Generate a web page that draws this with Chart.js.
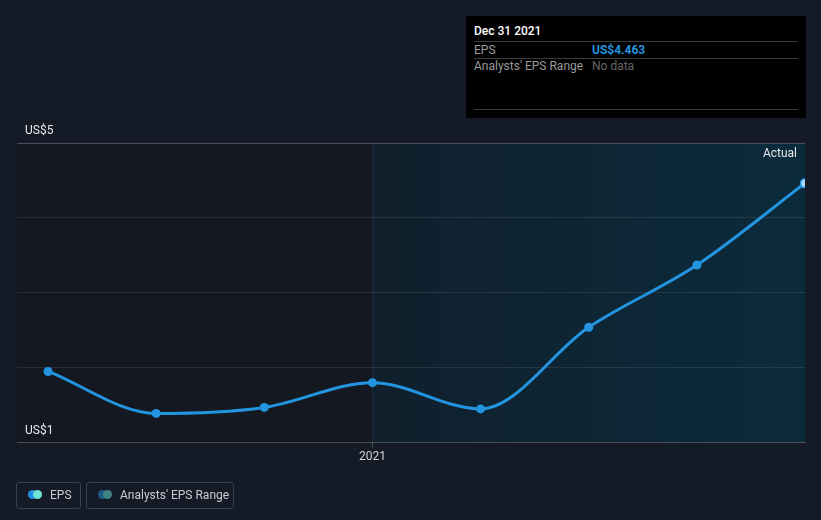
<!DOCTYPE html>
<html><head><meta charset="utf-8">
<script src="https://cdn.jsdelivr.net/npm/chart.js@4/dist/chart.umd.min.js"></script>
<style>
html,body{margin:0;padding:0;background:#151b26;width:821px;height:520px;overflow:hidden;font-family:Roboto,"Noto Sans",sans-serif;}
#wrap{position:absolute;left:0;top:0;width:821px;height:520px;}
#tip{position:absolute;left:466px;top:16px;width:340px;height:102px;background:#000;font-size:12px;}
#tip .t{position:absolute;left:8px;top:8px;color:#fff;font-weight:500;}
#tip .l{position:absolute;left:8px;width:324px;height:1px;background:#3a3a3a;}
#tip .k{position:absolute;left:8px;color:#9a9a9a;}
#tip .v{position:absolute;left:126px;}
.lg{position:absolute;top:482px;height:27px;border:1px solid #3b414b;border-radius:3px;box-sizing:border-box;color:#c8ccd2;font-size:12px;line-height:24px;}
.dot{position:absolute;top:7px;width:9px;height:9px;border-radius:50%;}
</style></head><body>
<div id="wrap"><canvas id="c" width="821" height="520"></canvas></div>
<div id="tip">
  <div class="t">Dec 31 2021</div>
  <div class="l" style="top:25px"></div>
  <div class="k" style="top:27px">EPS</div>
  <div class="v" style="top:27px;color:#2394df;font-weight:700">US$4.463</div>
  <div class="l" style="top:42px"></div>
  <div class="k" style="top:43px">Analysts' EPS Range</div>
  <div class="v" style="top:43px;color:#666">No data</div>
  <div class="l" style="top:93px"></div>
</div>
<div class="lg" style="left:16px;width:65px;">
  <span class="dot" style="left:11px;background:#1f8fe3"></span>
  <span class="dot" style="left:16px;background:#6fe3d6"></span>
  <span style="position:absolute;left:33px">EPS</span>
</div>
<div class="lg" style="left:86px;width:148px;">
  <span class="dot" style="left:11px;background:#1d5b88"></span>
  <span class="dot" style="left:16px;background:#3f8482"></span>
  <span style="position:absolute;left:33px">Analysts' EPS Range</span>
</div>
<script>
const periods = ["Mar 31 2020","Jun 30 2020","Sep 30 2020","Dec 31 2020","Mar 31 2021","Jun 30 2021","Sep 30 2021","Dec 31 2021"];
const periodIndex = [0,1,2,3,4,5,6,7];
const epsValues = [1.95,1.39,1.47,1.80,1.45,2.54,3.37,4.463];
const yTicks = [1,2,3,4,5];
const yLabelTicks = {1:"US$1",5:"US$5"};
const xTickValue = 3;
const xTickLabel = "2021";

const bgPlugin = {
  id:'bg',
  beforeDraw(chart){
    const {ctx, chartArea:a, scales:{x}} = chart;
    ctx.save();
    ctx.fillStyle='#151b26';
    ctx.fillRect(0,0,chart.width,chart.height);
    const split = x.getPixelForValue(xTickValue);
    ctx.fillStyle='#141820';
    ctx.fillRect(a.left,a.top,split-a.left,a.bottom-a.top);
    const g = ctx.createLinearGradient(split,0,a.right,0);
    g.addColorStop(0,'#10202c');
    g.addColorStop(1,'#0b2b3c');
    ctx.fillStyle=g;
    ctx.fillRect(split,a.top,a.right-split,a.bottom-a.top);
    ctx.strokeStyle='rgba(255,255,255,0.07)';
    ctx.lineWidth=1;
    ctx.beginPath();ctx.moveTo(Math.round(split)+0.5,a.top);ctx.lineTo(Math.round(split)+0.5,a.bottom);ctx.stroke();
    ctx.restore();
  },
  afterDatasetsDraw(chart){
    const {ctx, chartArea:a} = chart;
    ctx.save();
    ctx.fillStyle='#e6e8eb';
    ctx.font='12px Roboto';
    ctx.textAlign='right';
    ctx.textBaseline='middle';
    ctx.fillText('Actual', a.right-8, a.top+11);
    ctx.restore();
  }
};

new Chart(document.getElementById('c'),{
  type:'line',
  data:{datasets:[{
    label:'EPS',
    data: periodIndex.map((p,i)=>({x:p,y:epsValues[i]})),
    borderColor:'#2394df',
    borderWidth:3,
    pointBackgroundColor: periodIndex.map((p,i)=> i===periodIndex.length-1 ? '#a8d8f8' : '#2394df'),
    pointBorderColor:'#2394df',
    pointBorderWidth: periodIndex.map((p,i)=> i===periodIndex.length-1 ? 1.5 : 0),
    pointRadius:4.5,
    cubicInterpolationMode:'monotone',
    fill:false
  }]},
  options:{
    responsive:false,animation:false,
    layout:{padding:{left:17,right:16,top:143,bottom:54}},
    plugins:{legend:{display:false},tooltip:{enabled:false}},
    scales:{
      x:{type:'linear',min:-0.287,max:7.0,
        afterBuildTicks(s){s.ticks=[{value:xTickValue}];},
        ticks:{color:'#d0d3d8',font:{family:'Roboto',size:12},padding:2,callback:()=>xTickLabel,maxRotation:0},
        grid:{display:true,drawOnChartArea:false,drawTicks:true,tickLength:5,color:'#4a4f57'},
        border:{display:true,color:'#4a4f57'}
      },
      y:{min:1,max:5,
        afterBuildTicks(s){s.ticks=yTicks.map(v=>({value:v}));},
        afterFit(s){s.width=0;},
        ticks:{mirror:true,padding:8,labelOffset:-12,color:'#e6e8eb',font:{family:'Roboto',size:12},callback:v=>yLabelTicks[v]||''},
        grid:{color:(c)=> (c.tick && (c.tick.value===5)) ? '#4a4f57' : 'rgba(255,255,255,0.09)',drawTicks:false},
        border:{display:false}
      }
    }
  },
  plugins:[bgPlugin]
});
</script>
</body></html>
